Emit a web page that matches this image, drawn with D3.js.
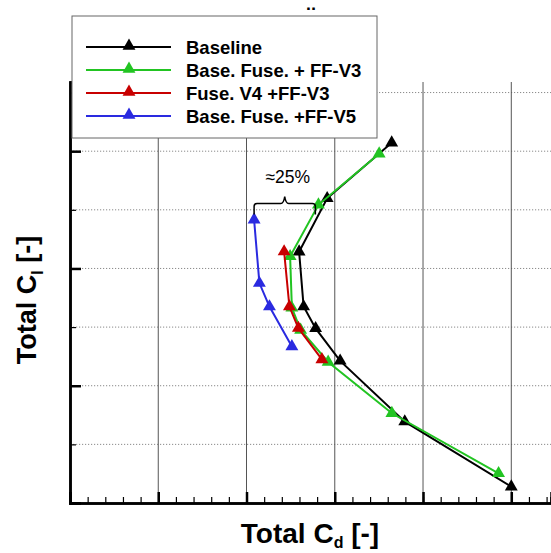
<!DOCTYPE html>
<html>
<head>
<meta charset="utf-8">
<script src="https://cdn.jsdelivr.net/npm/d3@7"></script>
<style>
  body { margin: 0; background: #fff; }
  svg { display: block; font-family: "Liberation Sans", Arial, sans-serif; }
</style>
</head>
<body>
<svg width="551" height="553"></svg>
<script>
// series names, legend order
const seriesNames = ["Baseline", "Base. Fuse. + FF-V3", "Fuse. V4 +FF-V3", "Base. Fuse. +FF-V5"];
const seriesColors = ["#000000", "#22c422", "#c80000", "#2a2ae0"];

// values (axis units, no tick labels in the original)
const baselineCd = [3.645, 2.914, 2.596, 2.647, 2.783, 3.061, 3.793, 5.0];
const baselineCl = [3.072, 2.598, 2.142, 1.675, 1.489, 1.212, 0.694, 0.139];
const ffv3Cd = [3.503, 2.815, 2.494, 2.514, 2.613, 2.925, 3.647, 4.856];
const ffv3Cl = [2.978, 2.543, 2.103, 1.664, 1.476, 1.203, 0.765, 0.253];
const v4Cd = [2.426, 2.486, 2.588, 2.854];
const v4Cl = [2.144, 1.675, 1.491, 1.224];
const ffv5Cd = [2.086, 2.146, 2.26, 2.514];
const ffv5Cl = [2.415, 1.875, 1.675, 1.334];

// annotation
const braceCd = [2.086, 2.78];
const braceCl = 2.46;
const braceLabel = "≈25%";

const svg = d3.select("svg");

const margin = { left: 70, right: 0, top: 82, bottom: 50 };
const width = +svg.attr("width");
const height = +svg.attr("height");

const x = d3.scaleLinear().domain([0, 5.45]).range([margin.left, width - margin.right]);
const y = d3.scaleLinear().domain([0, 3.59]).range([height - margin.bottom, margin.top]);

const series = [
  { name: seriesNames[0], color: seriesColors[0], xs: baselineCd, ys: baselineCl },
  { name: seriesNames[1], color: seriesColors[1], xs: ffv3Cd, ys: ffv3Cl },
  { name: seriesNames[2], color: seriesColors[2], xs: v4Cd, ys: v4Cl },
  { name: seriesNames[3], color: seriesColors[3], xs: ffv5Cd, ys: ffv5Cl }
].map((s) => ({ ...s, pts: s.xs.map((v, i) => [v, s.ys[i]]) }));

// grid
const g = svg.append("g");
g.selectAll(".hgrid")
  .data(d3.range(0.5, 3.59, 0.5))
  .join("line")
  .attr("x1", x(0)).attr("x2", x(5.45))
  .attr("y1", (d) => y(d)).attr("y2", (d) => y(d))
  .attr("stroke", "#8a8a8a")
  .attr("stroke-width", 1)
  .attr("stroke-dasharray", "1.2,1.8");

g.selectAll(".vgrid")
  .data(d3.range(1, 6))
  .join("line")
  .attr("x1", (d) => x(d)).attr("x2", (d) => x(d))
  .attr("y1", y(0)).attr("y2", y(3.59))
  .attr("stroke", "#555")
  .attr("stroke-width", 1);

// axes (ticks pointing inward, no labels)
const xMajor = d3.axisTop(x).tickValues(d3.range(0, 5.45, 1)).tickSize(11).tickFormat("");
const xMinor = d3.axisTop(x).tickValues(d3.range(0, 5.45, 0.2)).tickSize(6).tickFormat("");
const yMajor = d3.axisRight(y).tickValues([0, 1, 2, 3]).tickSize(11).tickFormat("");
const yMinor = d3.axisRight(y).tickValues(d3.range(0.5, 3.59, 1)).tickSize(6).tickFormat("");

[xMinor, xMajor].forEach((ax, i) => {
  svg.append("g")
    .attr("transform", `translate(0,${y(0)})`)
    .call(ax)
    .call((s) => s.selectAll("line").attr("stroke", "#000").attr("stroke-width", i ? 2.5 : 1.2))
    .call((s) => s.select(".domain").attr("stroke", "#000").attr("stroke-width", 2.5));
});
[yMinor, yMajor].forEach((ax, i) => {
  svg.append("g")
    .attr("transform", `translate(${x(0)},0)`)
    .call(ax)
    .call((s) => s.selectAll("line").attr("stroke", "#000").attr("stroke-width", i ? 2.5 : 1.2))
    .call((s) => s.select(".domain").attr("stroke", "#000").attr("stroke-width", 2.5));
});

// lines and markers
const line = d3.line().x((d) => x(d[0])).y((d) => y(d[1]));
const tri = d3.symbol().type(d3.symbolTriangle).size(72);

series.forEach((s) => {
  svg.append("path")
    .datum(s.pts)
    .attr("d", line)
    .attr("fill", "none")
    .attr("stroke", s.color)
    .attr("stroke-width", 2);
  svg.selectAll(null)
    .data(s.pts)
    .join("path")
    .attr("d", tri)
    .attr("transform", (d) => `translate(${x(d[0])},${y(d[1])})`)
    .attr("fill", s.color);
});

// brace annotation
const bx0 = x(braceCd[0]);
const bx1 = x(braceCd[1]);
const by = y(braceCl);
const bm = (bx0 + bx1) / 2;
const brace = d3.path();
brace.moveTo(bx0, by);
brace.lineTo(bx0, by - 8);
brace.quadraticCurveTo(bx0, by - 11, bx0 + 3, by - 11);
brace.lineTo(bm - 4, by - 11);
brace.quadraticCurveTo(bm - 1, by - 11, bm, by - 18);
brace.quadraticCurveTo(bm + 1, by - 11, bm + 4, by - 11);
brace.lineTo(bx1 - 3, by - 11);
brace.quadraticCurveTo(bx1, by - 11, bx1, by - 8);
brace.lineTo(bx1, by);
svg.append("path")
  .attr("d", brace.toString())
  .attr("fill", "none")
  .attr("stroke", "#000")
  .attr("stroke-width", 1.5);
svg.append("text")
  .attr("x", bm + 3)
  .attr("y", by - 32)
  .attr("text-anchor", "middle")
  .attr("font-size", 17.5)
  .text(braceLabel);

// legend
const legend = svg.append("g").attr("transform", "translate(72,16)");
legend.append("rect")
  .attr("width", 305).attr("height", 122)
  .attr("fill", "#fff").attr("stroke", "#666").attr("stroke-width", 1);
series.forEach((s, i) => {
  const row = legend.append("g").attr("transform", `translate(0,${31 + i * 23})`);
  row.append("line").attr("x1", 14).attr("x2", 99)
    .attr("stroke", s.color).attr("stroke-width", 2.2);
  row.append("path").attr("d", tri).attr("transform", "translate(57,-1)").attr("fill", s.color);
  row.append("text").attr("x", 114).attr("y", 6.5)
    .attr("font-size", 18.5).attr("font-weight", "bold")
    .text(s.name);
});

// axis titles
const xt = svg.append("text")
  .attr("x", 310).attr("y", 543)
  .attr("text-anchor", "middle")
  .attr("font-size", 28).attr("font-weight", "bold");
xt.append("tspan").text("Total C");
xt.append("tspan").attr("font-size", 16).attr("dy", 5).text("d");
xt.append("tspan").attr("dy", -5).text(" [-]");

const yt = svg.append("text")
  .attr("transform", "translate(36,300) rotate(-90)")
  .attr("text-anchor", "middle")
  .attr("font-size", 27).attr("font-weight", "bold");
yt.append("tspan").text("Total C");
yt.append("tspan").attr("font-size", 16).attr("dy", 7).text("l");
yt.append("tspan").attr("dy", -7).text(" [-]");

// clipped title remnant at the top edge
svg.append("text")
  .attr("x", 311).attr("y", 24)
  .attr("text-anchor", "middle")
  .attr("font-size", 24).attr("font-weight", "bold")
  .text("¨");
</script>
</body>
</html>
